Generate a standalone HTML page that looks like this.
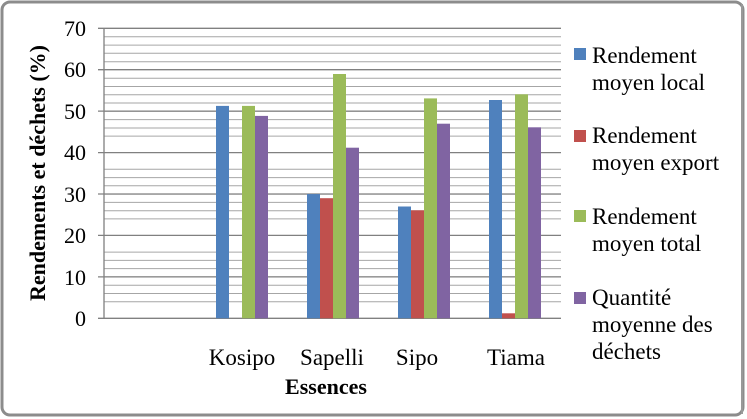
<!DOCTYPE html>
<html><head><meta charset="utf-8"><style>
html,body{margin:0;padding:0;background:#fff}
svg{display:block}
text{font-family:"Liberation Serif","DejaVu Serif",serif;fill:#000}
</style></head><body>
<svg width="747" height="419" viewBox="0 0 747 419" font-family="Liberation Serif, serif">
<rect x="2" y="2" width="741" height="413" rx="8" fill="#fff" stroke="#8c8c8c" stroke-width="3"/>
<g stroke="#a6a6a6" stroke-width="1">
<line x1="104" x2="561" y1="301.7" y2="301.7"/><line x1="104" x2="561" y1="285.2" y2="285.2"/><line x1="104" x2="561" y1="268.6" y2="268.6"/><line x1="104" x2="561" y1="252.1" y2="252.1"/>
<line x1="104" x2="561" y1="218.9" y2="218.9"/><line x1="104" x2="561" y1="202.4" y2="202.4"/><line x1="104" x2="561" y1="185.8" y2="185.8"/><line x1="104" x2="561" y1="169.3" y2="169.3"/>
<line x1="104" x2="561" y1="136.1" y2="136.1"/><line x1="104" x2="561" y1="119.6" y2="119.6"/><line x1="104" x2="561" y1="103.0" y2="103.0"/><line x1="104" x2="561" y1="86.5" y2="86.5"/>
<line x1="104" x2="561" y1="53.3" y2="53.3"/><line x1="104" x2="561" y1="36.8" y2="36.8"/>
<line x1="104" x2="561" y1="94.8" y2="94.8"/><line x1="104" x2="561" y1="78.2" y2="78.2"/><line x1="104" x2="561" y1="61.7" y2="61.7"/><line x1="104" x2="561" y1="45.1" y2="45.1"/>
<line x1="104" x2="561" y1="293.5" y2="293.5"/><line x1="104" x2="561" y1="276.9" y2="276.9"/><line x1="104" x2="561" y1="260.4" y2="260.4"/>
<line x1="104" x2="561" y1="210.7" y2="210.7"/><line x1="104" x2="561" y1="194.1" y2="194.1"/><line x1="104" x2="561" y1="177.6" y2="177.6"/>
<line x1="104" x2="561" y1="128.0" y2="128.0"/><line x1="104" x2="561" y1="111.3" y2="111.3"/>
</g>
<g stroke="#808080" stroke-width="1.3">
<line x1="98" x2="561" y1="28.3" y2="28.3"/><line x1="98" x2="561" y1="69.7" y2="69.7"/><line x1="98" x2="561" y1="111.1" y2="111.1"/><line x1="98" x2="561" y1="152.6" y2="152.6"/><line x1="98" x2="561" y1="194.0" y2="194.0"/><line x1="98" x2="561" y1="235.4" y2="235.4"/><line x1="98" x2="561" y1="276.9" y2="276.9"/>
<line x1="98" x2="561" y1="318.3" y2="318.3"/>
<line x1="104" x2="104" y1="28" y2="318.3"/>
</g>
<g>
<rect x="216" y="105.9" width="13" height="212.4" fill="#4f81bd"/>
<rect x="242" y="105.9" width="13" height="212.4" fill="#9bbb59"/>
<rect x="255" y="115.9" width="13" height="202.4" fill="#8064a2"/>
<rect x="307" y="194.1" width="13" height="124.2" fill="#4f81bd"/>
<rect x="320" y="198.2" width="13" height="120.1" fill="#c0504d"/>
<rect x="333" y="74" width="13" height="244.3" fill="#9bbb59"/>
<rect x="346" y="147.7" width="13" height="170.6" fill="#8064a2"/>
<rect x="398" y="206.5" width="13" height="111.8" fill="#4f81bd"/>
<rect x="411" y="210.3" width="13" height="108" fill="#c0504d"/>
<rect x="424" y="98.4" width="13" height="219.9" fill="#9bbb59"/>
<rect x="437" y="123.7" width="13" height="194.6" fill="#8064a2"/>
<rect x="489" y="100" width="13" height="218.3" fill="#4f81bd"/>
<rect x="502" y="313.3" width="13" height="5" fill="#c0504d"/>
<rect x="515" y="94.3" width="13" height="224" fill="#9bbb59"/>
<rect x="528" y="127.3" width="13" height="191" fill="#8064a2"/>
</g>
<g font-size="22" text-anchor="end">
<text x="86" y="36">70</text><text x="86" y="77">60</text><text x="86" y="119">50</text><text x="86" y="160">40</text><text x="86" y="202">30</text><text x="86" y="243">20</text><text x="86" y="285">10</text><text x="86" y="326">0</text>
</g>
<g font-size="23" text-anchor="middle">
<text x="242" y="365">Kosipo</text><text x="332" y="365">Sapelli</text><text x="417" y="365">Sipo</text><text x="516" y="365">Tiama</text>
</g>
<text x="326" y="394" font-size="22" font-weight="bold" text-anchor="middle">Essences</text>
<text transform="translate(45,173) rotate(-90)" font-size="22" font-weight="bold" text-anchor="middle">Rendements et déchets (%)</text>
<line x1="742" y1="4" x2="742" y2="414" stroke="#999" stroke-width="2"/>
<rect x="574" y="48" width="12" height="12" fill="#4f81bd"/>
<rect x="574" y="130" width="12" height="12" fill="#c0504d"/>
<rect x="574" y="210" width="12" height="12" fill="#9bbb59"/>
<rect x="574" y="292" width="12" height="12" fill="#8064a2"/>
<g font-size="23">
<text x="592" y="63">Rendement</text><text x="592" y="90">moyen local</text>
<text x="592" y="143">Rendement</text><text x="592" y="170">moyen export</text>
<text x="592" y="224">Rendement</text><text x="592" y="251">moyen total</text>
<text x="592" y="305">Quantité</text><text x="592" y="332">moyenne des</text><text x="592" y="359">déchets</text>
</g>
</svg>
</body></html>
